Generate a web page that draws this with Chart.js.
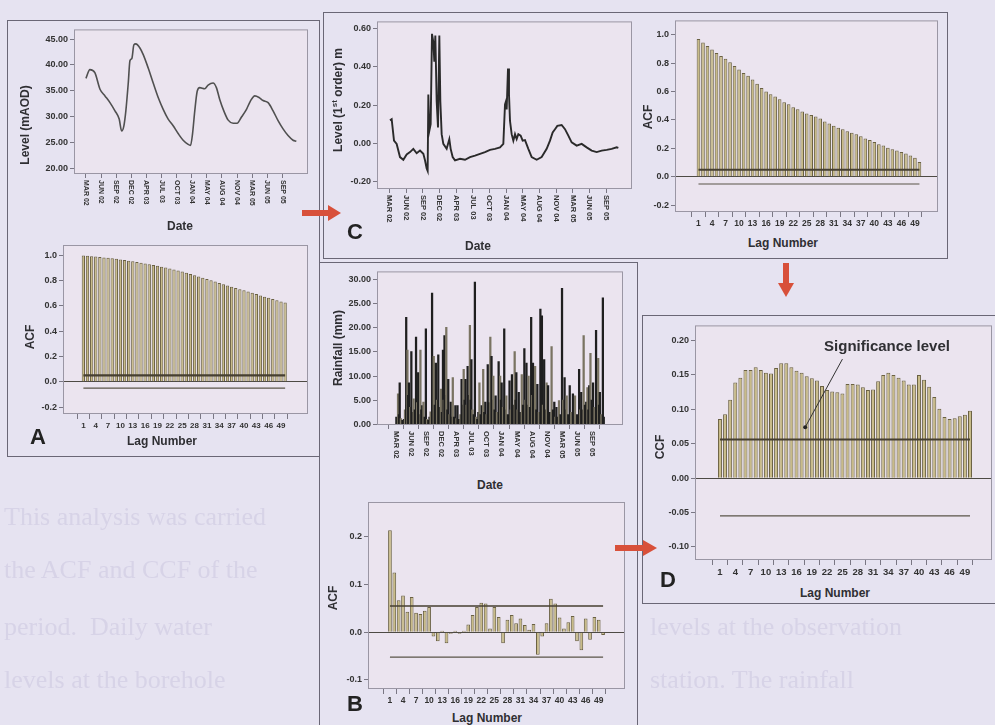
<!DOCTYPE html>
<html>
<head>
<meta charset="utf-8">
<title>Level, rainfall, ACF and CCF</title>
<script src="https://cdn.jsdelivr.net/npm/chart.js@4.4.1/dist/chart.umd.min.js"></script>
<style>
  html, body { margin: 0; padding: 0; }
  body { width: 995px; height: 725px; overflow: hidden; position: relative; background: #e6e3f1; font-family: "Liberation Sans", Arial, sans-serif; }
  canvas { position: absolute; }
  .frame { position: absolute; border: 1px solid #6a6776; background: #e6e3f1; box-sizing: border-box; }
  .lbl { position: absolute; white-space: nowrap; font-weight: bold; font-size: 12px; color: #2f2f33; transform: translate(-50%, -50%); }
  .lbl.v { transform: translate(-50%, -50%) rotate(-90deg); }
  .lbl sup { font-size: 8px; }
  .big { font-size: 22px; color: #222; }
  .page { position: absolute; white-space: nowrap; font-family: "Liberation Serif", serif; font-size: 26px; color: #d7d3e7; transform: translateY(-50%); filter: blur(0.6px); }
  svg { position: absolute; left: 0; top: 0; }
</style>
</head>
<body>

<!-- faint text of the scanned page behind the figure -->
<div class="page" style="left:4px;top:517px">This analysis was carried</div>
<div class="page" style="left:4px;top:570px">the ACF and CCF of the</div>
<div class="page" style="left:4px;top:627px">period.&nbsp; Daily water</div>
<div class="page" style="left:4px;top:680px">levels at the borehole</div>
<div class="page" style="left:650px;top:627px">levels at the observation</div>
<div class="page" style="left:650px;top:680px">station. The rainfall</div>

<div class="frame" style="left:7px;top:20px;width:313px;height:437px"></div>
<div class="frame" style="left:323px;top:12px;width:625px;height:247px"></div>
<div class="frame" style="left:319px;top:262px;width:319px;height:470px"></div>
<div class="frame" style="left:642px;top:315px;width:360px;height:289px"></div>

<canvas id="levelA"></canvas>
<canvas id="acfA"></canvas>
<canvas id="levelC"></canvas>
<canvas id="acfC"></canvas>
<canvas id="rain"></canvas>
<canvas id="acfB"></canvas>
<canvas id="ccfD"></canvas>

<div class="lbl v" style="left:25px;top:125px">Level (mAOD)</div>
<div class="lbl" style="left:180px;top:226px">Date</div>
<div class="lbl v" style="left:30px;top:337px">ACF</div>
<div class="lbl" style="left:162px;top:441px">Lag Number</div>
<div class="lbl big" style="left:38px;top:437px">A</div>

<div class="lbl v" style="left:337px;top:100px">Level (1<sup>st</sup> order) m</div>
<div class="lbl" style="left:478px;top:246px">Date</div>
<div class="lbl big" style="left:355px;top:232px">C</div>
<div class="lbl v" style="left:648px;top:117px">ACF</div>
<div class="lbl" style="left:783px;top:243px">Lag Number</div>

<div class="lbl v" style="left:338px;top:348px">Rainfall (mm)</div>
<div class="lbl" style="left:490px;top:485px">Date</div>
<div class="lbl v" style="left:333px;top:598px">ACF</div>
<div class="lbl" style="left:487px;top:718px">Lag Number</div>
<div class="lbl big" style="left:355px;top:704px">B</div>

<div class="lbl v" style="left:660px;top:447px">CCF</div>
<div class="lbl" style="left:835px;top:593px">Lag Number</div>
<div class="lbl big" style="left:668px;top:580px">D</div>
<div class="lbl" style="left:887px;top:345px;font-size:15px">Significance level</div>

<svg width="995" height="725">
  <g fill="#d8503a">
    <rect x="302" y="210" width="28" height="6"/>
    <polygon points="328,205 341,213 328,221"/>
    <rect x="783" y="263" width="6" height="22"/>
    <polygon points="778,283 794,283 786,297"/>
    <rect x="615" y="545" width="30" height="6"/>
    <polygon points="643,540 657,548 643,556"/>
  </g>
</svg>

<script>
// ---- data ----
const dateTicks = ["MAR 02", "JUN 02", "SEP 02", "DEC 02", "APR 03", "JUL 03", "OCT 03",
                   "JAN 04", "MAY 04", "AUG 04", "NOV 04", "MAR 05", "JUN 05", "SEP 05"];
const lagTicks = [1, 4, 7, 10, 13, 16, 19, 22, 25, 28, 31, 34, 37, 40, 43, 46, 49];
const lags = Array.from({ length: 50 }, (_, i) => i + 1);

// groundwater level (mAOD); position is counted in date-tick steps
const levelPos = [0, 0.26, 0.59, 0.93, 1.26, 1.59, 1.92, 2.20, 2.36, 2.51,
                  2.64, 2.80, 2.91, 3.04, 3.17, 3.30, 3.57, 3.79, 4.12, 4.45,
                  4.78, 5.11, 5.44, 5.77, 6.10, 6.43, 6.76, 6.92, 7.05, 7.20,
                  7.36, 7.53, 7.86, 8.08, 8.41, 8.63, 8.85, 9.12, 9.41, 9.74,
                  10.0, 10.29, 10.62, 10.88, 11.17, 11.45, 11.72, 12.05, 12.38, 12.71,
                  13.04, 13.37, 13.70, 13.92];
const levelMaod = [37.4, 39.1, 38.5, 35.3, 34.0, 32.7, 31.1, 29.5, 27.2, 28.2,
                   31.1, 36.5, 40.8, 41.3, 43.9, 44.1, 43.3, 42.0, 39.4, 36.5,
                   33.7, 31.4, 29.5, 28.2, 26.7, 25.4, 24.6, 24.4, 26.6, 31.1,
                   34.9, 35.6, 35.4, 36.1, 36.5, 35.6, 33.3, 31.1, 29.3, 28.7,
                   28.7, 29.9, 31.4, 33.0, 34.0, 33.7, 33.1, 32.7, 31.1, 29.2,
                   27.6, 26.3, 25.4, 25.2];

// first-order differenced level (m)
const diffPos = [0.04, 0.14, 0.28, 0.44, 0.64, 0.84, 1.04, 1.24, 1.44, 1.64,
                 1.84, 2.04, 2.14, 2.24, 2.30, 2.34, 2.40, 2.48, 2.56, 2.64,
                 2.70, 2.76, 2.84, 2.92, 3.00, 3.06, 3.14, 3.24, 3.44, 3.60,
                 3.68, 3.80, 3.94, 4.24, 4.54, 4.84, 5.14, 5.44, 5.74, 6.04,
                 6.34, 6.64, 6.84, 6.94, 7.00, 7.04, 7.12, 7.18, 7.24, 7.34,
                 7.44, 7.54, 7.64, 7.74, 7.88, 8.00, 8.14, 8.34, 8.54, 8.84,
                 9.14, 9.44, 9.64, 9.80, 9.94, 10.08, 10.34, 10.54, 10.74, 10.94,
                 11.24, 11.54, 11.84, 12.14, 12.44, 12.74, 13.04, 13.34, 13.64, 13.74];
const diffLevel = [0.12, 0.126, 0.014, -0.003, -0.072, -0.086, -0.058, -0.046, -0.029, -0.052,
                   -0.038, -0.055, -0.089, -0.132, -0.145, 0.255, 0.065, 0.10, 0.573, 0.53,
                   0.427, 0.564, 0.22, 0.083, 0.564, 0.22, 0.048, -0.003, -0.029, 0.022,
                   -0.029, -0.072, -0.089, -0.081, -0.086, -0.072, -0.064, -0.055, -0.046, -0.034,
                   -0.029, -0.021, -0.003, 0.203, 0.22, 0.177, 0.392, 0.255, 0.117, 0.048,
                   0.014, 0.048, 0.022, 0.048, 0.04, 0.014, 0.017, -0.029, -0.072, -0.086,
                   -0.072, -0.029, 0.014, 0.057, 0.074, 0.091, 0.096, 0.074, 0.04, 0.005,
                   -0.012, -0.003, -0.021, -0.038, -0.046, -0.038, -0.034, -0.029, -0.021, -0.024];

// daily rainfall (mm)
const rainPos = [0.05, 0.16, 0.22, 0.27, 0.35, 0.45, 0.55, 0.62, 0.70, 0.74,
                 0.78, 0.83, 0.88, 0.96, 1.04, 1.10, 1.19, 1.27, 1.35, 1.42,
                 1.49, 1.56, 1.64, 1.70, 1.76, 1.84, 1.92, 2.00, 2.08, 2.16,
                 2.24, 2.31, 2.41, 2.46, 2.52, 2.59, 2.66, 2.74, 2.82, 2.90,
                 2.99, 3.06, 3.13, 3.18, 3.23, 3.29, 3.35, 3.42, 3.48, 3.56,
                 3.64, 3.71, 3.78, 3.86, 3.95, 4.02, 4.09, 4.20, 4.28, 4.36,
                 4.43, 4.50, 4.56, 4.62, 4.69, 4.76, 4.84, 4.91, 4.96, 5.01,
                 5.08, 5.16, 5.24, 5.32, 5.40, 5.47, 5.54, 5.62, 5.69, 5.79,
                 5.86, 5.93, 6.01, 6.09, 6.17, 6.26, 6.34, 6.40, 6.46, 6.54,
                 6.61, 6.70, 6.81, 6.86, 6.91, 6.96, 7.01, 7.10, 7.18, 7.25,
                 7.32, 7.42, 7.53, 7.61, 7.69, 7.78, 7.87, 7.93, 7.98, 8.06,
                 8.14, 8.24, 8.34, 8.42, 8.51, 8.58, 8.65, 8.72, 8.79, 8.88,
                 8.96, 9.02, 9.08, 9.15, 9.22, 9.30, 9.37, 9.47, 9.57, 9.67,
                 9.74, 9.82, 9.90, 9.98, 10.08, 10.18, 10.31, 10.40, 10.49, 10.56,
                 10.63, 10.71, 10.80, 10.90, 11.00, 11.08, 11.17, 11.24, 11.31, 11.41,
                 11.51, 11.61, 11.72, 11.79, 11.86, 12.00, 12.13, 12.20, 12.27, 12.35,
                 12.43, 12.52, 12.60, 12.68, 12.74, 12.80, 12.88, 12.96, 13.05, 13.15,
                 13.25, 13.32, 13.39, 13.45, 13.50, 13.60, 13.70, 13.76];
const rainMm = [1.5, 6.3, 2.0, 8.6, 1.2, 0.8, 1.0, 3.0, 22.2, 4.0,
                15.4, 6.0, 8.6, 3.5, 15.1, 2.5, 5.3, 3.0, 18.1, 4.5,
                10.7, 2.0, 15.4, 3.0, 3.9, 4.6, 1.5, 19.8, 1.0, 0.8,
                1.5, 2.6, 27.2, 6.0, 14.1, 4.0, 12.7, 5.0, 14.4, 3.5,
                7.3, 2.5, 15.4, 5.0, 18.4, 6.0, 20.1, 3.0, 9.3, 2.0,
                4.6, 1.5, 9.7, 1.5, 3.9, 1.2, 3.9, 1.0, 2.0, 9.3,
                4.0, 11.4, 5.0, 9.3, 4.0, 12.0, 6.0, 20.5, 5.0, 13.4,
                3.0, 2.0, 29.5, 1.5, 1.0, 2.5, 8.6, 2.0, 3.9, 11.4,
                2.5, 4.6, 2.0, 12.4, 4.5, 18.1, 14.1, 5.0, 10.0, 3.0,
                5.9, 2.5, 13.0, 4.0, 10.0, 5.0, 8.6, 3.5, 19.8, 3.0,
                5.9, 2.0, 9.0, 3.0, 10.3, 4.0, 15.1, 5.0, 10.7, 3.0,
                6.6, 2.5, 10.3, 4.0, 15.7, 5.0, 12.7, 4.0, 10.0, 3.5,
                22.2, 6.0, 12.7, 4.0, 12.0, 3.0, 8.3, 2.5, 23.9, 22.5,
                4.0, 13.4, 3.0, 8.6, 8.0, 2.5, 16.1, 3.0, 4.6, 1.5,
                3.5, 1.5, 4.9, 2.0, 28.2, 5.0, 9.7, 3.0, 5.9, 2.0,
                8.0, 2.5, 6.3, 2.0, 5.9, 2.0, 11.4, 3.0, 6.6, 3.0,
                18.4, 4.0, 4.6, 7.6, 3.0, 8.0, 14.7, 5.0, 8.6, 3.5,
                19.5, 5.0, 13.7, 4.0, 6.6, 2.0, 26.2, 1.5];

// ACF of the level (A)
const acfLevel = [0.998, 0.995, 0.992, 0.989, 0.986, 0.982, 0.979, 0.975, 0.971, 0.966,
                  0.961, 0.956, 0.951, 0.946, 0.940, 0.934, 0.928, 0.922, 0.916, 0.909,
                  0.902, 0.894, 0.886, 0.878, 0.870, 0.861, 0.851, 0.842, 0.832, 0.822,
                  0.812, 0.801, 0.791, 0.780, 0.770, 0.760, 0.751, 0.741, 0.731, 0.722,
                  0.712, 0.702, 0.692, 0.682, 0.672, 0.663, 0.653, 0.644, 0.634, 0.625];
// ACF of the differenced level (C)
const acfDiff = [0.97, 0.945, 0.92, 0.895, 0.87, 0.85, 0.83, 0.805, 0.78, 0.755,
                 0.73, 0.71, 0.685, 0.655, 0.625, 0.60, 0.58, 0.565, 0.545, 0.525,
                 0.51, 0.49, 0.475, 0.46, 0.445, 0.435, 0.425, 0.41, 0.39, 0.375,
                 0.36, 0.345, 0.335, 0.32, 0.31, 0.30, 0.285, 0.27, 0.26, 0.245,
                 0.23, 0.22, 0.205, 0.195, 0.185, 0.175, 0.165, 0.15, 0.135, 0.105];
// ACF of rainfall (B)
const acfRain = [0.214, 0.125, 0.067, 0.077, 0.043, 0.074, 0.041, 0.038, 0.045, 0.053,
                 -0.009, -0.019, 0.003, -0.023, -0.003, 0.003, -0.003, 0.003, 0.016, 0.036,
                 0.053, 0.062, 0.06, 0.008, 0.053, 0.032, -0.023, 0.026, 0.036, 0.019,
                 0.029, 0.015, 0.005, 0.017, -0.047, -0.009, 0.019, 0.07, 0.06, 0.031,
                 0.008, 0.021, 0.034, -0.019, -0.038, 0.029, -0.016, 0.032, 0.026, -0.006];
// CCF rainfall vs differenced level (D)
const ccfRainLevel = [0.086, 0.093, 0.114, 0.139, 0.146, 0.157, 0.157, 0.161, 0.157, 0.153,
                      0.152, 0.160, 0.167, 0.167, 0.161, 0.156, 0.153, 0.148, 0.145, 0.142,
                      0.134, 0.128, 0.126, 0.125, 0.123, 0.137, 0.137, 0.136, 0.132, 0.128,
                      0.129, 0.141, 0.150, 0.153, 0.150, 0.146, 0.142, 0.136, 0.136, 0.150,
                      0.143, 0.133, 0.118, 0.101, 0.089, 0.086, 0.087, 0.090, 0.092, 0.098];

// confidence limits [upper, lower]
const confA = [0.05, -0.05];
const confC = [0.05, -0.05];
const confB = [0.055, -0.052];
const confD = [0.056, -0.055];

// "Significance level" pointer, in lag / CCF units
const pointerFrom = [25, 0.173];
const pointerTo = [17.7, 0.074];

// ---- drawing ----
Chart.defaults.font.family = '"Liberation Sans", Arial, sans-serif';
Chart.defaults.color = '#333';

const plotDeco = {
    id: 'plotDeco',
    beforeDraw(chart) {
        const { ctx, chartArea: a } = chart;
        ctx.save();
        ctx.fillStyle = '#ebe4ef';
        ctx.fillRect(a.left, a.top, a.right - a.left, a.bottom - a.top);
        ctx.restore();
    },
    afterDraw(chart, args, opts) {
        const { ctx, chartArea: a } = chart;
        ctx.save();
        ctx.strokeStyle = '#9a96a4';
        ctx.lineWidth = 1;
        ctx.strokeRect(a.left + 0.5, a.top + 0.5, a.right - a.left - 1, a.bottom - a.top - 1);

        // SPSS style date labels, turned clockwise
        if (opts.dateSize) {
            const sx = chart.scales.x;
            ctx.fillStyle = '#333';
            ctx.font = 'bold ' + opts.dateSize + 'px "Liberation Sans", Arial, sans-serif';
            ctx.textAlign = 'left';
            ctx.textBaseline = 'middle';
            sx.ticks.forEach(t => {
                ctx.save();
                ctx.translate(sx.getPixelForValue(t.value), a.bottom + 6);
                ctx.rotate(Math.PI / 2);
                ctx.fillText(dateTicks[t.value], 0, 0);
                ctx.restore();
            });
        }

        // pointer to the significance line
        if (opts.pointer) {
            const sx = chart.scales.x, sy = chart.scales.y;
            const x1 = sx.getPixelForValue(pointerFrom[0]), y1 = sy.getPixelForValue(pointerFrom[1]);
            const x2 = sx.getPixelForValue(pointerTo[0]), y2 = sy.getPixelForValue(pointerTo[1]);
            ctx.strokeStyle = '#333';
            ctx.beginPath();
            ctx.moveTo(x1, y1);
            ctx.lineTo(x2, y2);
            ctx.stroke();
            ctx.fillStyle = '#222';
            ctx.beginPath();
            ctx.arc(x2, y2, 2, 0, Math.PI * 2);
            ctx.fill();
        }
        ctx.restore();
    }
};

function place(id, box) {
    const cv = document.getElementById(id);
    cv.width = box.w;
    cv.height = box.h;
    cv.style.left = box.x + 'px';
    cv.style.top = box.y + 'px';
    return cv;
}

// padding and axis sizes that put the plot area exactly where it sits in the picture
function fitArea(box, area) {
    return {
        padding: { left: 0, top: area.t - box.y, right: box.x + box.w - area.r, bottom: 0 },
        yWidth: area.l - box.x,
        xHeight: box.y + box.h - area.b
    };
}

function yAxis(o, L) {
    return {
        type: 'linear', min: o.yMin, max: o.yMax,
        afterBuildTicks: s => { s.ticks = o.yTicks.map(v => ({ value: v })); },
        afterFit: s => { s.width = L.yWidth; },
        ticks: { callback: v => v.toFixed(o.digits), font: { size: 9, weight: 'bold' }, color: '#333', padding: 2 },
        grid: {
            drawOnChartArea: !!o.zeroLine,
            color: c => (c.tick && c.tick.value === 0) ? '#4d4a44' : 'rgba(0,0,0,0)',
            tickColor: '#7a7784', tickLength: 4, lineWidth: 1
        },
        border: { display: false }
    };
}

function dateAxis(o, L) {
    return {
        type: 'linear', min: o.xMin, max: o.xMax,
        afterBuildTicks: s => { s.ticks = dateTicks.map((d, i) => ({ value: i })); },
        afterFit: s => { s.height = L.xHeight; },
        ticks: { display: false },
        grid: { drawOnChartArea: false, tickColor: '#7a7784', tickLength: 4 },
        border: { display: false }
    };
}

function baseOptions(L, scales, deco) {
    return {
        responsive: false, animation: false, devicePixelRatio: 1,
        layout: { padding: L.padding },
        scales,
        plugins: { legend: { display: false }, tooltip: { enabled: false }, plotDeco: deco }
    };
}

function lineChart(id, o) {
    const cv = place(id, o.box);
    const L = fitArea(o.box, o.area);
    return new Chart(cv, {
        type: 'line',
        data: {
            datasets: [{
                data: o.pos.map((p, i) => ({ x: p, y: o.values[i] })),
                borderColor: o.color, borderWidth: o.width, pointRadius: 0,
                cubicInterpolationMode: o.smooth ? 'monotone' : 'default', tension: 0
            }]
        },
        options: baseOptions(L, { x: dateAxis(o, L), y: yAxis(o, L) }, { dateSize: o.dateSize }),
        plugins: [plotDeco]
    });
}

function rainChart(id, o) {
    const cv = place(id, o.box);
    const L = fitArea(o.box, o.area);
    return new Chart(cv, {
        type: 'bar',
        data: {
            datasets: [{
                data: rainPos.map((p, i) => ({ x: p, y: rainMm[i] })),
                backgroundColor: c => (c.dataIndex % 3 === 1 ? '#7a7462' : '#1f1f1f'),
                barThickness: 1.6, borderWidth: 0
            }]
        },
        options: baseOptions(L, { x: dateAxis(o, L), y: yAxis(o, L) }, { dateSize: o.dateSize }),
        plugins: [plotDeco]
    });
}

function lagChart(id, o) {
    const cv = place(id, o.box);
    const L = fitArea(o.box, o.area);
    const xAxis = {
        type: 'linear', min: o.xMin, max: o.xMax,
        afterBuildTicks: s => { s.ticks = lagTicks.map(v => ({ value: v })); },
        afterFit: s => { s.height = L.xHeight; },
        ticks: { callback: v => String(v), font: { size: o.lagSize, weight: 'bold' }, color: '#333',
                 maxRotation: 0, minRotation: 0, autoSkip: false, padding: 2 },
        grid: { drawOnChartArea: false, tickColor: '#7a7784', tickLength: 5 },
        border: { display: false }
    };
    return new Chart(cv, {
        type: 'bar',
        data: {
            datasets: [
                { type: 'line', data: [{ x: 1, y: o.conf[0] }, { x: 50, y: o.conf[0] }],
                  borderColor: '#463f31', borderWidth: o.upperWidth, pointRadius: 0, order: 0 },
                { type: 'line', data: [{ x: 1, y: o.conf[1] }, { x: 50, y: o.conf[1] }],
                  borderColor: '#5a5548', borderWidth: 1.2, pointRadius: 0, order: 0 },
                { type: 'bar', data: o.values.map((v, i) => ({ x: lags[i], y: v })),
                  backgroundColor: '#c8bb88', borderColor: '#6a6143', borderWidth: 1,
                  barPercentage: o.barPct, categoryPercentage: 1, order: 1 }
            ]
        },
        options: baseOptions(L, { x: xAxis, y: yAxis(Object.assign({ zeroLine: true }, o), L) }, { pointer: o.pointer }),
        plugins: [plotDeco]
    });
}

lineChart('levelA', {
    box: { x: 10, y: 22, w: 306, h: 200 }, area: { l: 74, t: 28, r: 308, b: 174 },
    pos: levelPos, values: levelMaod, color: '#505050', width: 1.6, smooth: true,
    xMin: -0.79, xMax: 14.69, yMin: 18.85, yMax: 46.9, yTicks: [20, 25, 30, 35, 40, 45], digits: 2,
    dateSize: 7
});

lagChart('acfA', {
    box: { x: 10, y: 236, w: 306, h: 200 }, area: { l: 63, t: 245, r: 308, b: 414 },
    values: acfLevel, conf: confA, upperWidth: 2.2, barPct: 0.8, lagSize: 8,
    xMin: -2.2, xMax: 53.8, yMin: -0.255, yMax: 1.08, yTicks: [-0.2, 0, 0.2, 0.4, 0.6, 0.8, 1.0], digits: 1
});

lineChart('levelC', {
    box: { x: 325, y: 14, w: 310, h: 228 }, area: { l: 377, t: 19, r: 632, b: 189 },
    pos: diffPos, values: diffLevel, color: '#2a2a2a', width: 1.9, smooth: false,
    xMin: -0.74, xMax: 14.56, yMin: -0.239, yMax: 0.638, yTicks: [-0.2, 0, 0.2, 0.4, 0.6], digits: 2,
    dateSize: 7.5
});

lagChart('acfC', {
    box: { x: 637, y: 13, w: 308, h: 222 }, area: { l: 675, t: 18, r: 938, b: 212 },
    values: acfDiff, conf: confC, upperWidth: 2.2, barPct: 0.8, lagSize: 8.5,
    xMin: -2.49, xMax: 52.4, yMin: -0.247, yMax: 1.1, yTicks: [-0.2, 0, 0.2, 0.4, 0.6, 0.8, 1.0], digits: 1
});

rainChart('rain', {
    box: { x: 322, y: 264, w: 308, h: 210 }, area: { l: 377, t: 268, r: 623, b: 425 },
    xMin: -0.65, xMax: 14.45, yMin: -0.15, yMax: 31.7, yTicks: [0, 5, 10, 15, 20, 25, 30], digits: 2,
    dateSize: 7.5
});

lagChart('acfB', {
    box: { x: 322, y: 492, w: 312, h: 215 }, area: { l: 368, t: 502, r: 625, b: 689 },
    values: acfRain, conf: confB, upperWidth: 1.4, barPct: 0.85, lagSize: 8.5,
    xMin: -2.31, xMax: 53.3, yMin: -0.119, yMax: 0.273, yTicks: [-0.1, 0, 0.1, 0.2], digits: 1
});

lagChart('ccfD', {
    box: { x: 645, y: 318, w: 349, h: 262 }, area: { l: 695, t: 323, r: 992, b: 560 },
    values: ccfRainLevel, conf: confD, upperWidth: 2, barPct: 0.78, lagSize: 9.5, pointer: true,
    xMin: -2.18, xMax: 52.6, yMin: -0.119, yMax: 0.222, yTicks: [-0.1, -0.05, 0, 0.05, 0.1, 0.15, 0.2], digits: 2
});
</script>
</body>
</html>
